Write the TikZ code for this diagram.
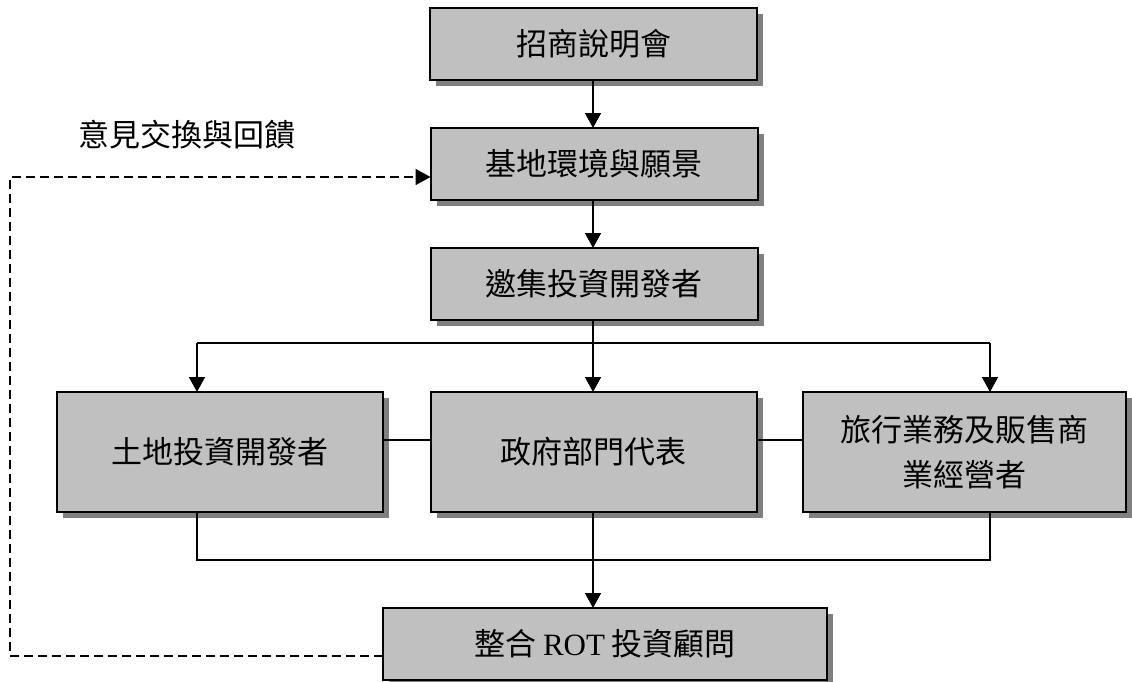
\documentclass[tikz,border=0pt]{standalone}
\usepackage{fontspec}
\setmainfont{Liberation Serif}
\newfontfamily\cjk{Noto Sans CJK TC}
\usetikzlibrary{arrows.meta,shadows}
\definecolor{boxfill}{HTML}{C0C0C0}
\definecolor{shadowgray}{HTML}{808080}
\tikzset{
  flowbox/.style={draw=black, line width=2pt, fill=boxfill, inner sep=0pt, outer sep=0pt,
    align=center, font=\cjk\fontsize{31}{45}\selectfont,
    drop shadow={shadow xshift=6pt, shadow yshift=-6pt, fill=shadowgray, opacity=1}},
  smallbox/.style={flowbox, minimum width=327pt, minimum height=72pt},
  bigbox/.style={flowbox, minimum width=326pt, minimum height=120pt},
  conn/.style={line width=1.6pt},
  arr/.style={conn, -{Triangle[length=15pt,width=16pt]}},
  dashconn/.style={arr, dash pattern=on 9pt off 5pt},
  lbl/.style={font=\cjk\fontsize{31}{45}\selectfont, inner sep=0pt}
}
\begin{document}
\begin{tikzpicture}[x=1pt,y=-1pt]
\useasboundingbox (0,0) rectangle (1132,681);
\node[smallbox] (b1) at (593.5,44) {招商說明會};
\node[smallbox] (b2) at (594,164) {基地環境與願景};
\node[smallbox] (b3) at (594,284) {邀集投資開發者};
\node[bigbox] (b4) at (220,452) {土地投資開發者};
\node[bigbox] (b5) at (593.5,452) {政府部門代表};
\node[bigbox, minimum width=323pt] (b6) at (964.5,452) {旅行業務及販售商\\業經營者};
\node[flowbox, minimum width=444pt, minimum height=72pt] (b7) at (605,644) {整合 {\rmfamily ROT} 投資顧問};
\node[lbl] (fb) at (187,135) {意見交換與回饋};

\draw[arr] (b1.south -| 593,0) -- (b2.north -| 593,0);
\draw[arr] (b2.south -| 593,0) -- (b3.north -| 593,0);
\coordinate (jL) at (197,343);
\coordinate (jR) at (990,343);
\draw[conn] (jL) -- (jR);
\draw[arr] (b3.south -| 593,0) -- (b5.north -| 593,0);
\draw[arr] (jL) -- (jL |- b4.north);
\draw[arr] (jR) -- (jR |- b6.north);

\draw[conn] ([yshift=12pt]b4.east) -- ([yshift=12pt]b5.west);
\draw[conn] ([yshift=12pt]b5.east) -- ([yshift=12pt]b6.west);

\coordinate (kL) at (197,560);
\coordinate (kR) at (990,560);
\draw[conn] (kL |- b4.south) -- (kL) -- (kR) -- (kR |- b6.south);
\draw[arr] (b5.south -| 593,0) -- (b7.north -| 593,0);

\coordinate (dOut) at ([yshift=-12pt]b7.west);
\coordinate (dIn) at ([yshift=-13pt]b2.west);
\coordinate (dc) at (10,0);
\draw[dashconn] (dOut) -| (dc |- dIn) -- (dIn);
\end{tikzpicture}
\end{document}
